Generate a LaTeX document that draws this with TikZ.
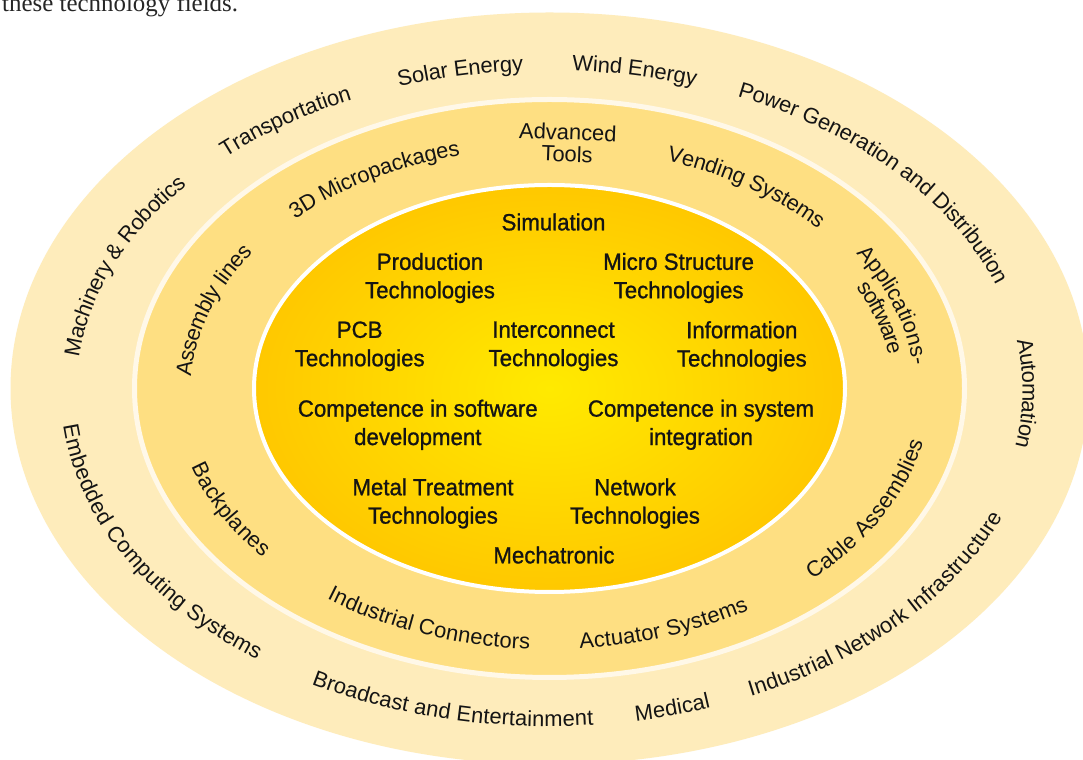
\documentclass[tikz,border=0pt]{standalone}
\usepackage{fontspec}
\setmainfont{Liberation Sans}
\newfontfamily\innerfont[FakeStretch=0.95,FakeBold=1]{Liberation Sans}
\newfontfamily\serifont{Liberation Serif}
\usetikzlibrary{decorations.text}
\definecolor{outerband}{RGB}{254,236,187}
\definecolor{ringcol}{RGB}{255,248,232}
\definecolor{midband}{RGB}{254,223,130}
\definecolor{coreIn}{RGB}{255,234,0}
\definecolor{coreOut}{RGB}{255,200,0}
\definecolor{txt}{RGB}{20,20,20}
\newcommand\lblfont{\fontsize{22}{22}\selectfont}
\newcommand\corefont{\innerfont\fontsize{23.5}{28.5}\selectfont}
% #1 raise, #2 x radius, #3 y radius, #4 start angle, #5 end angle, #6 text
\newcommand\arclabel[6][-7.9bp]{%
  \path[decorate, decoration={text along path, text align=center, raise=#1,
    text color=txt, text={|\lblfont|#6}}]
    (T) ++(#4:#2 and #3) arc[start angle=#4, end angle=#5, x radius=#2, y radius=#3];}
\tikzset{
  core/.style={font=\corefont, align=center, text=txt, inner sep=0pt},
  band/.style={font=\lblfont, align=center, text=txt, inner sep=0pt},
}
\begin{document}
\begin{tikzpicture}[x=1bp, y=1bp]
\useasboundingbox (0,0) rectangle (1083,760);
\clip (0,0) rectangle (1083,760);
\fill[white] (0,0) rectangle (1083,760);
\node[anchor=base west, inner sep=0pt, text=black!85, font=\serifont\fontsize{25}{25}\selectfont] (intro) at (2,748.5) {these technology fields.};
\coordinate (C) at (549.5,371.5);
\coordinate (T) at (549.5,369.5);
% rings
\fill[outerband] (C) ellipse[x radius=539, y radius=376];
\draw[ringcol, line width=5bp, fill=midband] (C) ellipse[x radius=415, y radius=289];
\shadedraw[draw=white, line width=4bp, inner color=coreIn, outer color=coreOut] (C) ellipse[x radius=295.5, y radius=203.5];
% outer band labels
\arclabel{481}{328}{185}{131}{Machinery {\&} Robotics}
\arclabel{481}{328}{144}{105}{Transportation}
\arclabel{481}{328}{118}{84}{Solar Energy}
\arclabel{481}{328}{97}{62}{Wind Energy}
\arclabel{481}{328}{75}{8}{Power Generation and Distribution}
\arclabel{481}{328}{20}{-21}{Automation}
\arclabel{481}{328}{-75}{-9}{Industrial Network Infrastructure}
\arclabel{481}{328}{-89}{-61}{Medical}
\arclabel{481}{328}{-130}{-75}{Broadcast and Entertainment}
\arclabel{481}{328}{178}{239}{Embedded Computing Systems}
% middle band labels
\arclabel{367}{251}{189}{135}{Assembly lines}
\arclabel{367}{251}{146}{95}{3D Micropackages}
\arclabel{367}{251}{80}{31}{Vending Systems}
\arclabel[3.1bp]{362}{251}{40}{-3}{Applications-}
\arclabel[-18.9bp]{362}{251}{36}{-1}{software}
\arclabel{373}{253}{-54}{-1}{Cable Assemblies}
\arclabel{367}{251}{-94}{-48}{Actuator Systems}
\arclabel{367}{251}{-137}{-84}{Industrial Connectors}
\arclabel{367}{251}{187}{228}{Backplanes}
\node[band, rotate=-2] (tools) at (567.5,617) {Advanced\\Tools};
% core labels
\node[core] (sim)  at (553.5,538) {Simulation};
\node[core] (prod) at (430,482) {Production\\Technologies};
\node[core] (micro) at (678.6,482) {Micro Structure\\Technologies};
\node[core] (pcb)  at (359.7,413.7) {PCB\\Technologies};
\node[core] (inter) at (553.5,413.7) {Interconnect\\Technologies};
\node[core] (info) at (741.8,413.7) {Information\\Technologies};
\node[core] (soft) at (417.8,335.2) {Competence in software\\development};
\node[core] (sys)  at (701,335.2) {Competence in system\\integration};
\node[core] (metal) at (433,256.6) {Metal Treatment\\Technologies};
\node[core] (net)  at (635,256.6) {Network\\Technologies};
\node[core] (mech) at (554,205) {Mechatronic};
\end{tikzpicture}
\end{document}
